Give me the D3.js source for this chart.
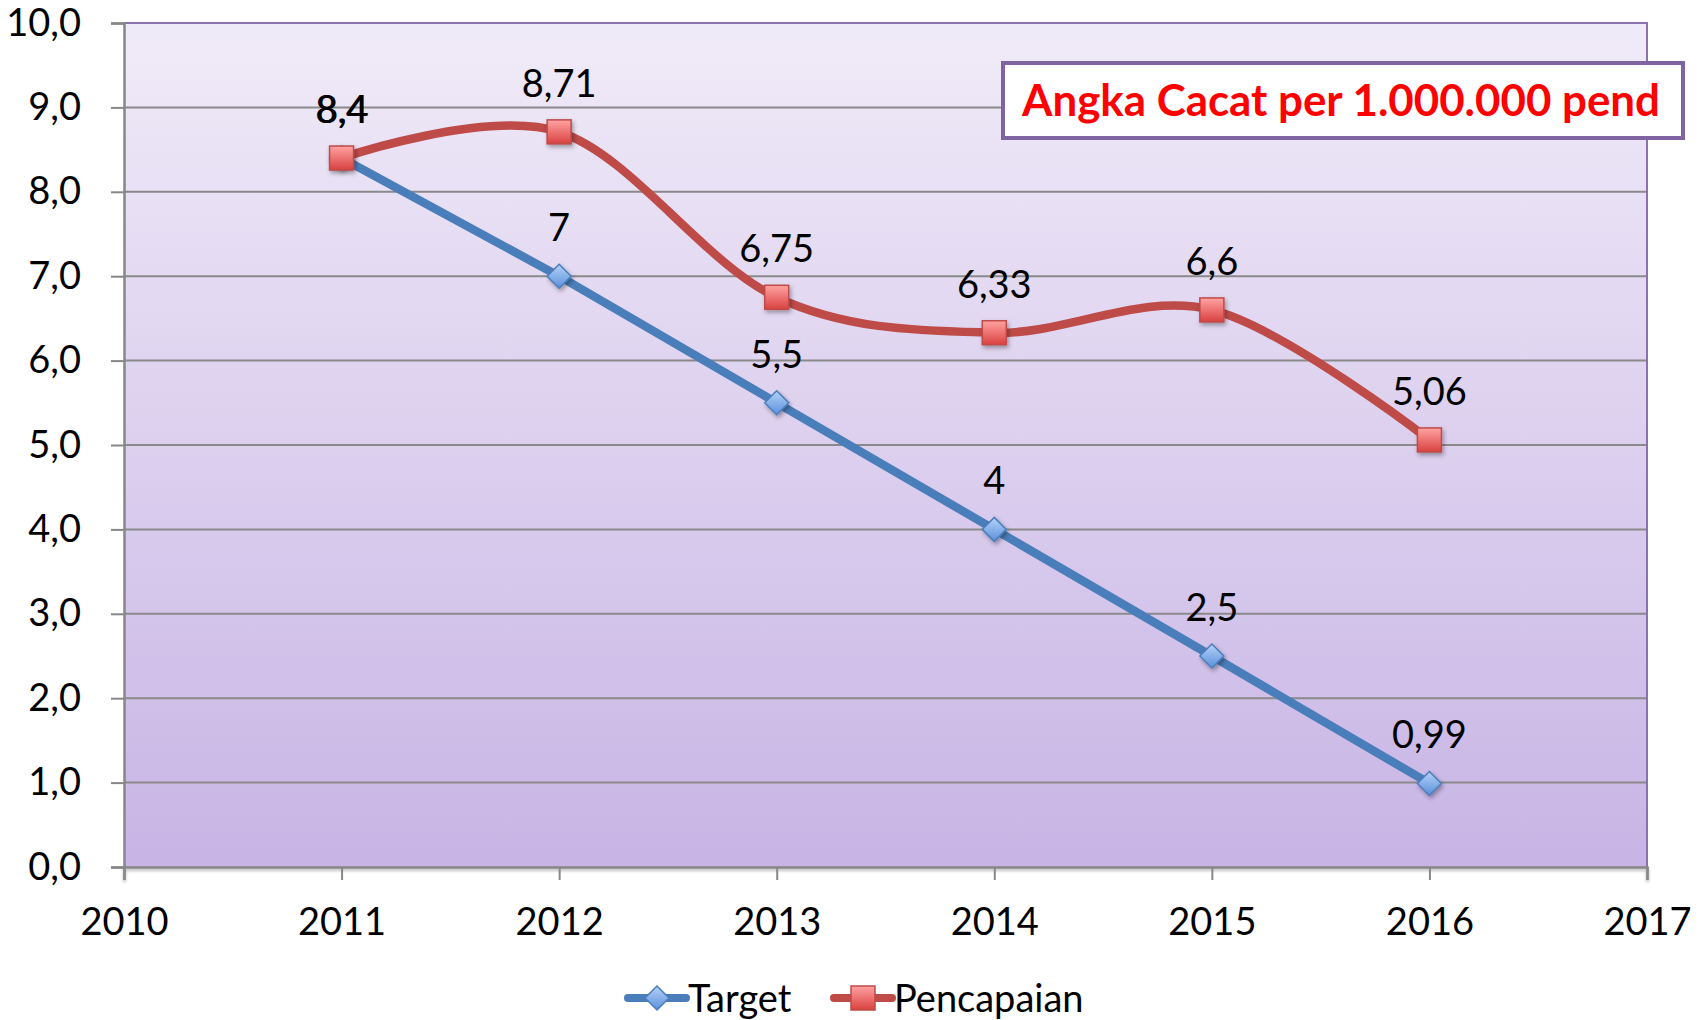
<!DOCTYPE html>
<html>
<head>
<meta charset="utf-8">
<script src="https://cdn.jsdelivr.net/npm/d3@7"></script>
<style>
  html, body { margin: 0; padding: 0; background: #ffffff; }
  svg { display: block; }
  text { font-family: Lato, "Open Sans", sans-serif; fill: #000; }
</style>
</head>
<body>
<script>
// Data
const years = [2011, 2012, 2013, 2014, 2015, 2016];
const target = [8.4, 7, 5.5, 4, 2.5, 0.99];
const targetLabels = ["8,4", "7", "5,5", "4", "2,5", "0,99"];
const pencapaian = [8.4, 8.71, 6.75, 6.33, 6.6, 5.06];
const pencapaianLabels = ["8,4", "8,71", "6,75", "6,33", "6,6", "5,06"];
const xTicks = [2010, 2011, 2012, 2013, 2014, 2015, 2016, 2017];
const yTicks = [0, 1, 2, 3, 4, 5, 6, 7, 8, 9, 10];
const seriesNames = ["Target", "Pencapaian"];
const titleText = "Angka Cacat per 1.000.000 pend";

const W = 1706, H = 1020;
const plot = { left: 124, top: 23, right: 1647, bottom: 867 };
const FS = 38;

const svg = d3.select("body").append("svg").attr("width", W).attr("height", H);
const defs = svg.append("defs");

// Plot background gradient
const bg = defs.append("linearGradient").attr("id", "bg").attr("x1", 0).attr("y1", 0).attr("x2", 0).attr("y2", 1);
bg.append("stop").attr("offset", "0%").attr("stop-color", "#f0ebf8");
bg.append("stop").attr("offset", "100%").attr("stop-color", "#c8b4e5");

// Marker gradients
const sqG = defs.append("linearGradient").attr("id", "sq").attr("x1", 0).attr("y1", 0).attr("x2", 0).attr("y2", 1);
sqG.append("stop").attr("offset", "0%").attr("stop-color", "#ffa3a3");
sqG.append("stop").attr("offset", "100%").attr("stop-color", "#d9413f");
const dmG = defs.append("linearGradient").attr("id", "dm").attr("x1", 0).attr("y1", 0).attr("x2", 0).attr("y2", 1);
dmG.append("stop").attr("offset", "0%").attr("stop-color", "#b5d2f7");
dmG.append("stop").attr("offset", "100%").attr("stop-color", "#5a90dc");

const sh = defs.append("filter").attr("id", "shadow").attr("x", "-50%").attr("y", "-50%").attr("width", "200%").attr("height", "200%");
sh.append("feDropShadow").attr("dx", 1.5).attr("dy", 2.5).attr("stdDeviation", 2).attr("flood-color", "#000").attr("flood-opacity", 0.35);

const axSh = defs.append("filter").attr("id", "axshadow").attr("x", "-5%").attr("y", "-50%").attr("width", "110%").attr("height", "400%");
axSh.append("feDropShadow").attr("dx", 0).attr("dy", 2).attr("stdDeviation", 1.5).attr("flood-color", "#000").attr("flood-opacity", 0.3);

// Scales
const x = d3.scaleLinear().domain([2010, 2017]).range([plot.left, plot.right]);
const y = d3.scaleLinear().domain([0, 10]).range([plot.bottom, plot.top]);

// Background
svg.append("rect")
  .attr("x", plot.left).attr("y", plot.top)
  .attr("width", plot.right - plot.left).attr("height", plot.bottom - plot.top)
  .attr("fill", "url(#bg)");

// Gridlines
svg.append("g").selectAll("line").data(yTicks.filter(d => d > 0 && d < 10)).join("line")
  .attr("x1", plot.left).attr("x2", plot.right)
  .attr("y1", d => y(d)).attr("y2", d => y(d))
  .attr("stroke", "#8a8a8a").attr("stroke-width", 2);

// Top and right frame
svg.append("path")
  .attr("d", `M${plot.left},${plot.top}H${plot.right}V${plot.bottom}`)
  .attr("fill", "none").attr("stroke", "#8a72ad").attr("stroke-width", 2);

// Y axis
const yAxis = svg.append("g").attr("transform", `translate(${plot.left},0)`)
  .call(d3.axisLeft(y).tickValues(yTicks).tickSize(13).tickPadding(30)
    .tickFormat(d => d3.format(".1f")(d).replace(".", ",")));
yAxis.select(".domain").attr("stroke", "#878787").attr("stroke-width", 2.5);
yAxis.selectAll(".tick line").attr("stroke", "#878787").attr("stroke-width", 2);
yAxis.selectAll(".tick text").attr("font-size", FS).attr("font-family", "Lato").attr("fill", "#000");

// X axis
const xAxis = svg.append("g").attr("transform", `translate(0,${plot.bottom})`)
  .call(d3.axisBottom(x).tickValues(xTicks).tickSize(13).tickPadding(28).tickFormat(d3.format("d")));
xAxis.select(".domain").attr("stroke", "#878787").attr("stroke-width", 2.5).attr("filter", "url(#axshadow)");
xAxis.selectAll(".tick line").attr("stroke", "#878787").attr("stroke-width", 2);
xAxis.selectAll(".tick text").attr("font-size", FS).attr("font-family", "Lato").attr("fill", "#000");

// Lines
const blue = "#4a7ebb", red = "#be4b48";
const tData = years.map((yr, i) => [yr, target[i]]);
const pData = years.map((yr, i) => [yr, pencapaian[i]]);

svg.append("path").datum(tData)
  .attr("d", d3.line().x(d => x(d[0])).y(d => y(d[1])))
  .attr("fill", "none").attr("stroke", blue).attr("stroke-width", 8.5).attr("stroke-linejoin", "round");

svg.append("path").datum(pData)
  .attr("d", d3.line().x(d => x(d[0])).y(d => y(d[1])).curve(d3.curveCatmullRom.alpha(0)))
  .attr("fill", "none").attr("stroke", red).attr("stroke-width", 8.5).attr("stroke-linejoin", "round");

// Markers
const diamond = s => `M0,${-s}L${s},0L0,${s}L${-s},0Z`;
svg.append("g").selectAll("path").data(tData).join("path")
  .attr("transform", d => `translate(${x(d[0])},${y(d[1])})`)
  .attr("d", diamond(12))
  .attr("fill", "url(#dm)").attr("stroke", blue).attr("stroke-width", 1.5)
  .attr("filter", "url(#shadow)");

svg.append("g").selectAll("rect").data(pData).join("rect")
  .attr("x", d => x(d[0]) - 12).attr("y", d => y(d[1]) - 12)
  .attr("width", 24).attr("height", 24)
  .attr("fill", "url(#sq)").attr("stroke", red).attr("stroke-width", 1.5)
  .attr("filter", "url(#shadow)");

// Data labels (the two 2011 labels coincide, nudged by a pixel)
svg.append("g").selectAll("text").data(tData).join("text")
  .attr("x", d => x(d[0]) + (d[0] === 2011 ? 1 : 0)).attr("y", d => y(d[1]) - 35)
  .attr("text-anchor", "middle").attr("font-size", FS)
  .text((d, i) => targetLabels[i]);
svg.append("g").selectAll("text").data(pData).join("text")
  .attr("x", d => x(d[0])).attr("y", d => y(d[1]) - 35)
  .attr("text-anchor", "middle").attr("font-size", FS)
  .text((d, i) => pencapaianLabels[i]);

// Title box
svg.append("rect")
  .attr("x", 1003).attr("y", 63).attr("width", 680).attr("height", 75)
  .attr("fill", "#ffffff").attr("stroke", "#8064a2").attr("stroke-width", 4);
const title = svg.append("text")
  .attr("x", 1341).attr("y", 116).attr("text-anchor", "middle")
  .attr("font-weight", "bold").attr("font-size", 40)
  .style("fill", "#ff0000")
  .text(titleText);
const tw = title.node().getComputedTextLength();
title.attr("font-size", 40 * 638 / tw);

// Legend
const leg = svg.append("g");
const legItems = [
  { name: seriesNames[0], color: blue, x0: 628, kind: "d" },
  { name: seriesNames[1], color: red, x0: 834, kind: "s" }
];
legItems.forEach(it => {
  const g = leg.append("g");
  g.append("line").attr("x1", it.x0).attr("x2", it.x0 + 58).attr("y1", 998).attr("y2", 998)
    .attr("stroke", it.color).attr("stroke-width", 8).attr("stroke-linecap", "round");
  if (it.kind === "d") {
    g.append("path").attr("transform", `translate(${it.x0 + 29},998)`).attr("d", diamond(12))
      .attr("fill", "url(#dm)").attr("stroke", it.color).attr("stroke-width", 1.5);
  } else {
    g.append("rect").attr("x", it.x0 + 29 - 12).attr("y", 986).attr("width", 24).attr("height", 24)
      .attr("fill", "url(#sq)").attr("stroke", it.color).attr("stroke-width", 1.5);
  }
  g.append("text").attr("x", it.x0 + 60).attr("y", 1012).attr("font-size", FS).text(it.name);
});
</script>
</body>
</html>
